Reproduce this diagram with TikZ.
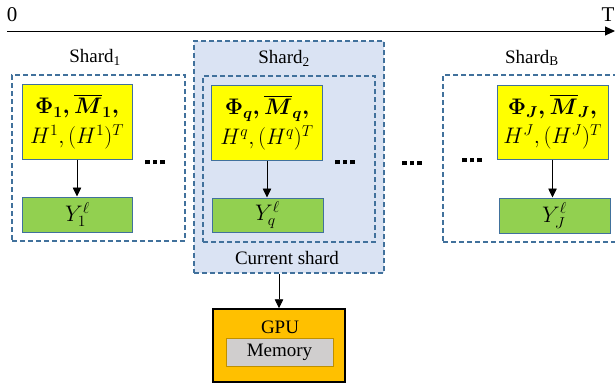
\RequirePackage{fix-cm}
\documentclass[tikz,border=0pt]{standalone}
\usepackage{amsmath}
\usepackage{fontspec}
\setmainfont{Liberation Serif}
\usetikzlibrary{arrows.meta}

\definecolor{edgeblue}{HTML}{41719C}
\definecolor{shardfill}{HTML}{DAE3F3}
\definecolor{boxyellow}{HTML}{FFFF00}
\definecolor{boxgreen}{HTML}{92D050}
\definecolor{gpuorange}{HTML}{FFC000}
\definecolor{memgrey}{HTML}{D0CECE}
\definecolor{memedge}{HTML}{BF9000}

% three square dots
\newcommand{\sqdots}{\rule{4.5pt}{4.5pt}\hspace{3.2pt}\rule{4.5pt}{4.5pt}\hspace{3.2pt}\rule{4.5pt}{4.5pt}}

\tikzset{
  every node/.style={font=\fontsize{19}{23}\selectfont, inner sep=0pt},
  axislabel/.style={font=\fontsize{21}{25}\selectfont},
  mathtext/.style={font=\fontsize{22.5}{29.5}\selectfont},
  shardframe/.style={draw=edgeblue, line width=1.2pt, dash pattern=on 5pt off 3pt},
  currentframe/.style={shardframe, fill=shardfill},
  databox/.style={draw=edgeblue, line width=1pt, fill=boxyellow, align=center, mathtext},
  outbox/.style={draw=edgeblue, line width=1pt, fill=boxgreen, mathtext},
  gpubox/.style={draw=black, line width=1.5pt, fill=gpuorange},
  membox/.style={draw=memedge, line width=1pt, fill=memgrey},
  flow/.style={-{Triangle[length=9pt,width=8.5pt]}, line width=0.8pt},
}

\begin{document}
\begin{tikzpicture}[x=1pt,y=-1pt]
  \useasboundingbox (0,0) rectangle (615,386);
  \clip (0,0) rectangle (615,386);

  % time axis
  \coordinate (t0) at (7,31);
  \coordinate (tT) at (615,31);
  \draw[-{Triangle[length=10pt,width=9pt]}, line width=1pt] (t0) -- (tT);
  \node[axislabel] (zero) at (12,15) {0};
  \node[axislabel] (tend) at (608,15) {T};

  % shard 1
  \node[shardframe, minimum width=173pt, minimum height=166pt] (s1) at (98.5,158) {};
  \node (s1lab) at (95,57) {Shard\textsubscript{1}};
  \node[databox, minimum width=110pt, minimum height=75pt] (d1) at (77,121.5)
    {$\boldsymbol{\Phi_1, \overline{M}_1,}$\\ $H^1, (H^1)^T$};
  \node[outbox, minimum width=110pt, minimum height=35pt] (y1) at (77.5,214.5) {$Y_1^\ell$};
  \draw[flow] (d1.south) -- (d1.south |- y1.north);
  \node (dots1) at (155,162) {\sqdots};

  % shard 2 (current shard)
  \node[currentframe, minimum width=190pt, minimum height=232pt] (cur) at (289,157) {};
  \node (s2lab) at (284,58) {Shard\textsubscript{2}};
  \node (curlab) at (287,258) {Current shard};
  \node[shardframe, minimum width=172pt, minimum height=166pt] (s2) at (289,159) {};
  \node[databox, minimum width=111pt, minimum height=75pt] (d2) at (267,122.5)
    {$\boldsymbol{\Phi_q, \overline{M}_q,}$\\ $H^q, (H^q)^T$};
  \node[outbox, minimum width=111pt, minimum height=34pt] (y2) at (267.5,215) {$Y_q^\ell$};
  \draw[flow] (d2.south) -- (d2.south |- y2.north);
  \node (dots2) at (345,162) {\sqdots};

  % gap between shards
  \node (dotsmid) at (412,163) {\sqdots};

  % shard B
  \node[shardframe, minimum width=200pt, minimum height=167pt] (sB) at (543,158.5) {};
  \node (sBlab) at (532,58) {Shard\textsubscript{B}};
  \node (dotsB) at (472,160) {\sqdots};
  \node[databox, minimum width=111pt, minimum height=74pt] (dB) at (552.5,122)
    {$\boldsymbol{\Phi_J, \overline{M}_J,}$\\ $H^J, (H^J)^T$};
  \node[outbox, minimum width=111pt, minimum height=35pt] (yB) at (554.5,215.5) {$Y_J^\ell$};
  \draw[flow] (dB.south) -- (dB.south |- yB.north);

  % GPU
  \node[gpubox, minimum width=132pt, minimum height=73pt] (gpu) at (279,345.5) {};
  \node (gpulab) at (280,327) {GPU};
  \node[membox, minimum width=107pt, minimum height=28pt] (mem) at (279.5,352) {Memory};
  \draw[flow] (cur.south -| gpu.north) -- (gpu.north);
\end{tikzpicture}
\end{document}
